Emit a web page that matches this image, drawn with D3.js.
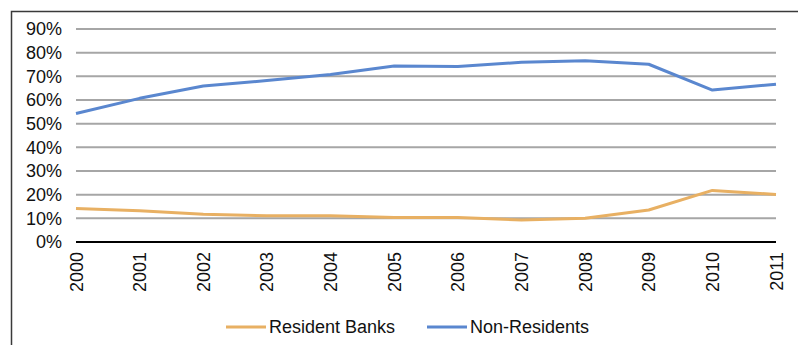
<!DOCTYPE html>
<html>
<head>
<meta charset="utf-8">
<script src="https://cdn.jsdelivr.net/npm/d3@7/dist/d3.min.js"></script>
<style>
  body { margin: 0; background: #fff; }
  svg text { font-family: "Liberation Sans", Arial, sans-serif; fill: #111; }
</style>
</head>
<body>
<svg id="chart" width="798" height="345"></svg>
<script>
// Data
const years = ["2000","2001","2002","2003","2004","2005","2006","2007","2008","2009","2010","2011"];
const residentBanks = [14.2, 13.2, 11.7, 11.1, 11.1, 10.3, 10.3, 9.3, 10.0, 13.5, 21.8, 20.1];
const nonResidents  = [54.3, 60.7, 65.9, 68.2, 70.8, 74.4, 74.2, 75.9, 76.6, 75.1, 64.2, 66.7];
const yTicks = [0, 10, 20, 30, 40, 50, 60, 70, 80, 90];

const series = [
  { name: "Resident Banks", values: residentBanks, color: "#e8b063" },
  { name: "Non-Residents",  values: nonResidents,  color: "#5a87cf" }
];

const svg = d3.select("#chart");

// Outer frame (only top and left edges show in the window)
svg.append("path")
    .attr("d", "M11.5,400V11.5H900")
    .attr("fill", "none")
    .attr("stroke", "#3a3a3a")
    .attr("stroke-width", 1.5);

// Scales
const x = d3.scalePoint().domain(years).range([76, 776]);
const y = d3.scaleLinear().domain([0, 90]).range([242, 29]);

// Gridlines
svg.append("g")
  .selectAll("line")
  .data(yTicks.filter(d => d > 0))
  .enter()
  .append("line")
    .attr("x1", 76).attr("x2", 776)
    .attr("y1", d => y(d)).attr("y2", d => y(d))
    .attr("stroke", "#a6a6a6")
    .attr("stroke-width", 2);

// Y axis labels
const yAxis = svg.append("g")
    .attr("transform", "translate(62,0)")
    .call(d3.axisLeft(y).tickValues(yTicks).tickFormat(d => d + "%").tickSize(0).tickPadding(0));
yAxis.select(".domain").remove();
yAxis.selectAll("text").attr("font-size", 18).attr("fill", "#111")
    .style("font-family", "Liberation Sans, Arial, sans-serif");

// X axis (zero line + rotated year labels)
svg.append("line")
    .attr("x1", 76).attr("x2", 776)
    .attr("y1", y(0)).attr("y2", y(0))
    .attr("stroke", "#000")
    .attr("stroke-width", 2);

svg.append("g")
  .selectAll("text")
  .data(years)
  .enter()
  .append("text")
    .attr("transform", d => "translate(" + (x(d) + 6.5) + "," + 252 + ") rotate(-90)")
    .attr("text-anchor", "end")
    .attr("font-size", 18)
    .text(d => d);

// Lines
const line = d3.line()
    .x((d, i) => x(years[i]))
    .y(d => y(d));

svg.append("g")
  .selectAll("path")
  .data(series)
  .enter()
  .append("path")
    .attr("d", d => line(d.values))
    .attr("fill", "none")
    .attr("stroke", d => d.color)
    .attr("stroke-width", 3)
    .attr("stroke-linejoin", "round");

// Legend
const legendX = [226, 427];
const legend = svg.append("g")
  .selectAll("g")
  .data(series)
  .enter()
  .append("g")
    .attr("transform", (d, i) => "translate(" + legendX[i] + ",327)");
legend.append("line")
    .attr("x1", 0).attr("x2", 40)
    .attr("stroke", d => d.color)
    .attr("stroke-width", 3);
legend.append("text")
    .attr("x", 43)
    .attr("dy", "0.35em")
    .attr("font-size", 18)
    .text(d => d.name);
</script>
</body>
</html>
